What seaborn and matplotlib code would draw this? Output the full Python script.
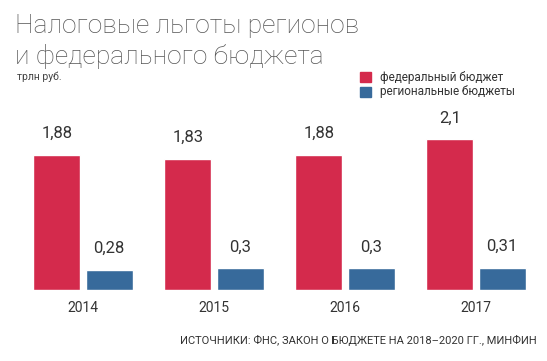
import numpy as np
import pandas as pd
import seaborn as sns
import matplotlib.pyplot as plt

years = ["2014", "2015", "2016", "2017"]
federal = [1.88, 1.83, 1.88, 2.1]
regional = [0.28, 0.3, 0.3, 0.31]
series_names = ["федеральный бюджет", "региональные бюджеты"]
colors = ["#d42a4c", "#376a9b"]


def fmt(v):
    return f"{v:g}".replace(".", ",")


df = pd.DataFrame({
    "year": years * 2,
    "value": federal + regional,
    "series": [series_names[0]] * 4 + [series_names[1]] * 4,
})

sns.set_theme(style="white")
plt.rcParams["font.family"] = ["Liberation Sans Narrow", "Roboto", "DejaVu Sans"]

fig = plt.figure(figsize=(5.47, 3.61), dpi=100)
W, H = 547, 361
# axes: x from -0.5..3.5 -> 131 px per group, y baseline at 290 px
left = (83 - 65.5) / W
bottom = (H - 290) / H
ax = fig.add_axes([left, bottom, 524 / W, 190 / H])

sns.barplot(data=df, x="year", y="value", hue="series", palette=colors,
            width=0.8, gap=0.1, saturation=1, legend=False, ax=ax)

ax.set_xlim(-0.5, 3.5)
ax.set_ylim(0, 190 / 71.8)
sns.despine(ax=ax, left=True, bottom=True)
ax.set_yticks([])
ax.set_xlabel("")
ax.set_ylabel("")
ax.tick_params(axis="x", length=0, pad=8, labelsize=10, labelcolor="#333333")

for cont in ax.containers:
    labels = [fmt(b.get_height()) for b in cont]
    ax.bar_label(cont, labels=labels, padding=10, fontsize=12, color="#333333")

# title
title_font = ["Roboto", "DejaVu Sans"]
fig.text(15 / W, 1 - 33 / H, "Налоговые льготы регионов", fontsize=19,
         fontweight="light", color="#555555", family=title_font,
         va="baseline")
fig.text(15 / W, 1 - 64 / H, "и федерального бюджета", fontsize=19,
         fontweight="light", color="#555555", family=title_font,
         va="baseline")
fig.text(17 / W, 1 - 80 / H, "трлн руб.", fontsize=7.5, color="#444444",
         va="baseline")

# legend
for i, (name, c) in enumerate(zip(series_names, colors)):
    y = 72 + i * 15
    fig.patches.append(plt.Rectangle((360 / W, 1 - (y + 10) / H), 11 / W, 10 / H,
                                     transform=fig.transFigure, color=c))
    fig.text(380 / W, 1 - (y + 5) / H, name, fontsize=8.5, color="#333333",
             va="center")

fig.text(537 / W, 1 - 340 / H,
         "ИСТОЧНИКИ: ФНС, ЗАКОН О БЮДЖЕТЕ НА 2018–2020 ГГ., МИНФИН",
         fontsize=8, color="#333333", ha="right", va="center")

fig.savefig("out.png", dpi=100)
